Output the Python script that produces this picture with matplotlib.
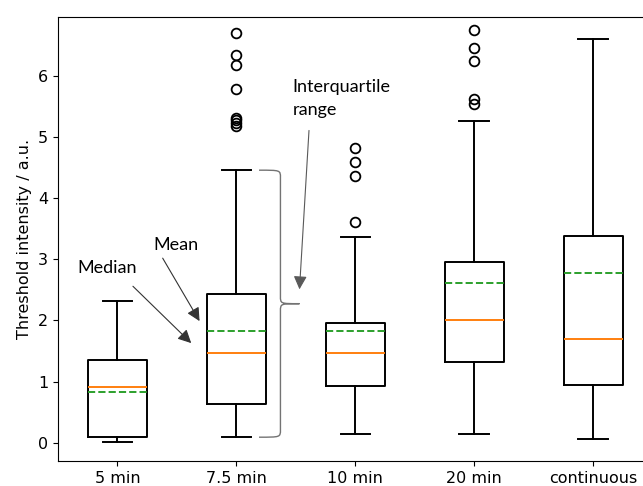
import matplotlib.pyplot as plt
from matplotlib.path import Path
import matplotlib.patches as patches

labels = ["5 min", "7.5 min", "10 min", "20 min", "continuous"]
whislo = [0.01, 0.09, 0.15, 0.15, 0.06]
q1 = [0.10, 0.64, 0.92, 1.32, 0.94]
med = [0.91, 1.47, 1.47, 2.01, 1.70]
mean = [0.83, 1.82, 1.83, 2.61, 2.78]
q3 = [1.35, 2.43, 1.96, 2.96, 3.39]
whishi = [2.32, 4.46, 3.37, 5.27, 6.60]
fliers = [
    [],
    [5.18, 5.23, 5.28, 5.32, 5.79, 6.18, 6.35, 6.71],
    [3.61, 4.36, 4.60, 4.82],
    [5.55, 5.62, 6.25, 6.46, 6.76],
    [],
]

stats = []
for i in range(len(labels)):
    stats.append(dict(label=labels[i], whislo=whislo[i], q1=q1[i], med=med[i],
                      mean=mean[i], q3=q3[i], whishi=whishi[i], fliers=fliers[i]))

fig = plt.figure(figsize=(6.43, 4.86), dpi=100)
ax = fig.add_axes([0.0902, 0.0514, 0.925, 0.914])

lw = 1.4
ax.bxp(stats, showmeans=True, meanline=True,
       boxprops=dict(linewidth=lw),
       whiskerprops=dict(linewidth=lw),
       capprops=dict(linewidth=lw),
       meanprops=dict(color='C2', linestyle='--', linewidth=lw),
       medianprops=dict(color='C1', linewidth=lw),
       flierprops=dict(marker='o', markerfacecolor='none', markeredgecolor='k',
                       markersize=7, markeredgewidth=1.3))

ax.set_xlim(0.5, 5.5)
ax.set_ylim(-0.3, 6.97)
ax.set_ylabel("Threshold intensity / a.u.", fontsize=11.5)
ax.tick_params(labelsize=11.5)

# annotations
note_font = dict(family=['Lato', 'DejaVu Sans'], fontsize=13)
arrow = dict(arrowstyle='-|>', color='0.2', mutation_scale=20, shrinkA=0, shrinkB=0, lw=0.8)

ax.annotate("", xy=(1.62, 1.63), xytext=(1.13, 2.56), arrowprops=arrow)
ax.text(0.66, 2.86, "Median", ha='left', va='center', **note_font)

ax.annotate("", xy=(1.69, 1.99), xytext=(1.38, 3.02), arrowprops=arrow)
ax.text(1.30, 3.23, "Mean", ha='left', va='center', **note_font)

iqr_arrow = dict(arrow, color='0.35')
ax.annotate("", xy=(2.53, 2.51), xytext=(2.61, 5.11), arrowprops=iqr_arrow)
ax.text(2.47, 5.95, "Interquartile\nrange", ha='left', va='top', linespacing=1.5, **note_font)

# curly brace spanning the 7.5 min whiskers
top, bot = whishi[1], whislo[1]
mid = (top + bot) / 2
x0, x1, x2 = 2.19, 2.37, 2.53
r = 0.12
verts = [
    (x0, top), (x1, top), (x1, top), (x1, top - r),
    (x1, mid + r),
    (x1, mid), (x1, mid), (x2, mid),
    (x1, mid), (x1, mid), (x1, mid - r),
    (x1, bot + r),
    (x1, bot), (x1, bot), (x0, bot),
]
codes = [Path.MOVETO, Path.CURVE4, Path.CURVE4, Path.CURVE4,
         Path.LINETO,
         Path.CURVE4, Path.CURVE4, Path.CURVE4,
         Path.CURVE4, Path.CURVE4, Path.CURVE4,
         Path.LINETO,
         Path.CURVE4, Path.CURVE4, Path.CURVE4]
ax.add_patch(patches.PathPatch(Path(verts, codes), fill=False, edgecolor='0.45', lw=1.0))

fig.savefig("out.png", dpi=100)
